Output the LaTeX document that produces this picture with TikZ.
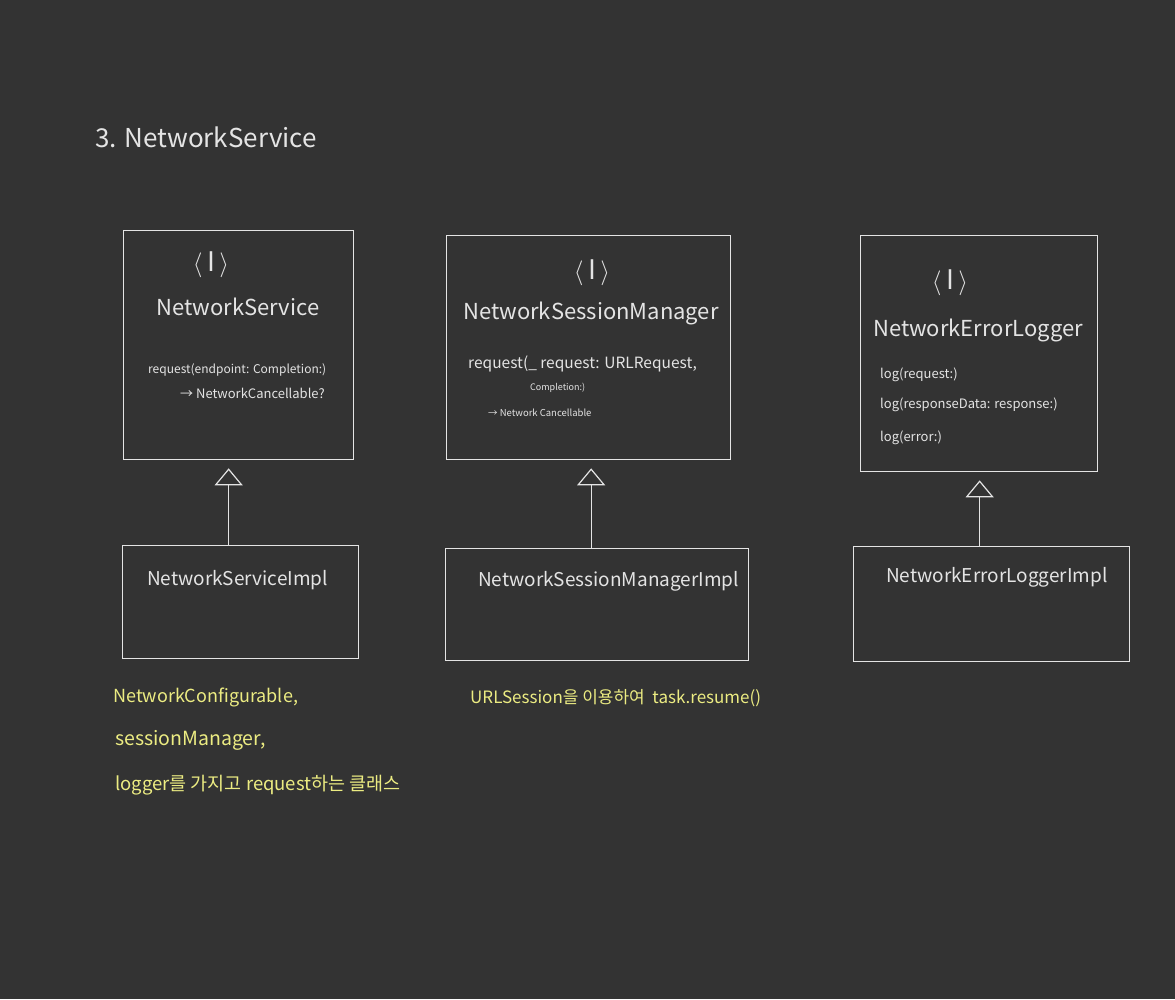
\documentclass[tikz,border=0pt]{standalone}
\usepackage{fontspec}
\setmainfont{Noto Sans CJK KR}
\usetikzlibrary{arrows.meta,positioning}
\definecolor{board}{RGB}{51,51,51}
\definecolor{chalk}{RGB}{228,228,228}
\definecolor{marker}{RGB}{236,236,130}
\tikzstyle{realize} = [draw=chalk, line width=1.2pt, -{Triangle[open,width=28pt,length=17pt]}, shorten >=8pt]

\begin{document}
\begin{tikzpicture}[
    x=1pt, y=-1pt,
    iface/.style={
      draw=chalk,
      line width=1.3pt,
      anchor=north west,
      inner sep=0pt
    },
    impl/.style={
      draw=chalk,
      line width=1.3pt,
      anchor=north west,
      inner sep=0pt
    },
    cname/.style={
      text=chalk,
      font=\fontsize{22}{26}\selectfont,
      inner sep=0pt
    },
    iname/.style={
      text=chalk,
      font=\fontsize{19}{23}\selectfont,
      anchor=west,
      inner sep=0pt
    },
    method/.style={
      text=chalk,
      anchor=west,
      inner sep=0pt
    },
    note/.style={
      text=marker,
      anchor=west,
      inner sep=0pt
    },
    stereo/.style={
      text=chalk,
      font=\fontsize{27}{30}\selectfont,
      inner sep=0pt
    }
  ]

  \useasboundingbox[fill=board] (0,0) rectangle (1175,999);

  \node[text=chalk,anchor=west,inner sep=0pt,font=\fontsize{26}{30}\selectfont] (title) at (95,137) {3. NetworkService};

  % interfaces
  \node[iface,minimum width=230pt,minimum height=229pt] (ns) at (123,230) {};
  \node[iface,minimum width=284pt,minimum height=224pt] (nsm) at (446,235) {};
  \node[iface,minimum width=237pt,minimum height=236pt] (nel) at (860,235) {};

  \node[stereo] (nsI) at (211,265) {$\langle$\,I\,$\rangle$};
  \node[cname] (nsname) at (238,307) {NetworkService};
  \node[method,font=\fontsize{12}{14}\selectfont] (nsreq) at (148,370) {request(endpoint: Completion:)};
  \node[method,font=\fontsize{13}{15}\selectfont] (nsret) at (180,393) {→ NetworkCancellable?};

  \node[stereo] (nsmI) at (592,273) {$\langle$\,I\,$\rangle$};
  \node[cname] (nsmname) at (591,313) {NetworkSessionManager};
  \node[method,font=\fontsize{15.5}{18}\selectfont] (nsmreq) at (468,364) {request(\_ request: URLRequest,};
  \node[method,font=\fontsize{9}{11}\selectfont] (nsmcomp) at (530,388) {Completion:)};
  \node[method,font=\fontsize{9.5}{11}\selectfont] (nsmret) at (488,413) {→ Network Cancellable};

  \node[stereo] (nelI) at (950,283) {$\langle$\,I\,$\rangle$};
  \node[cname] (nelname) at (978,330) {NetworkErrorLogger};
  \node[method,font=\fontsize{13}{15}\selectfont] (nellog1) at (880,375) {log(request:)};
  \node[method,font=\fontsize{13}{15}\selectfont] (nellog2) at (880,405) {log(responseData: response:)};
  \node[method,font=\fontsize{13}{15}\selectfont] (nellog3) at (880,438) {log(error:)};

  % implementations
  \node[impl,minimum width=236pt,minimum height=113pt] (nsimpl) at (122,545) {};
  \node[impl,minimum width=303pt,minimum height=112pt] (nsmimpl) at (445,548) {};
  \node[impl,minimum width=276pt,minimum height=115pt] (nelimpl) at (853,546) {};

  \node[iname] (nsimplname) at (147,580) {NetworkServiceImpl};
  \node[iname] (nsmimplname) at (478,581) {NetworkSessionManagerImpl};
  \node[iname] (nelimplname) at (886,577) {NetworkErrorLoggerImpl};

  \draw[realize] ([xshift=-12pt]nsimpl.north) -- ([xshift=-12pt]nsimpl.north |- ns.south);
  \draw[realize] ([xshift=-6pt]nsmimpl.north) -- ([xshift=-6pt]nsmimpl.north |- nsm.south);
  \draw[realize] ([xshift=-12pt]nelimpl.north) -- ([xshift=-12pt]nelimpl.north |- nel.south);

  % notes
  \node[note,font=\fontsize{18}{22}\selectfont] (cfg) at (113,697) {NetworkConfigurable,};
  \node[note,font=\fontsize{19.5}{23}\selectfont] (smgr) at (115,740) {sessionManager,};
  \node[note,font=\fontsize{18.5}{22}\selectfont] (lgr) at (115,785) {logger를 가지고 request하는 클래스};
  \node[note,font=\fontsize{17}{20}\selectfont] (task) at (470,698) {URLSession을 이용하여 \ task.resume()};

\end{tikzpicture}
\end{document}
